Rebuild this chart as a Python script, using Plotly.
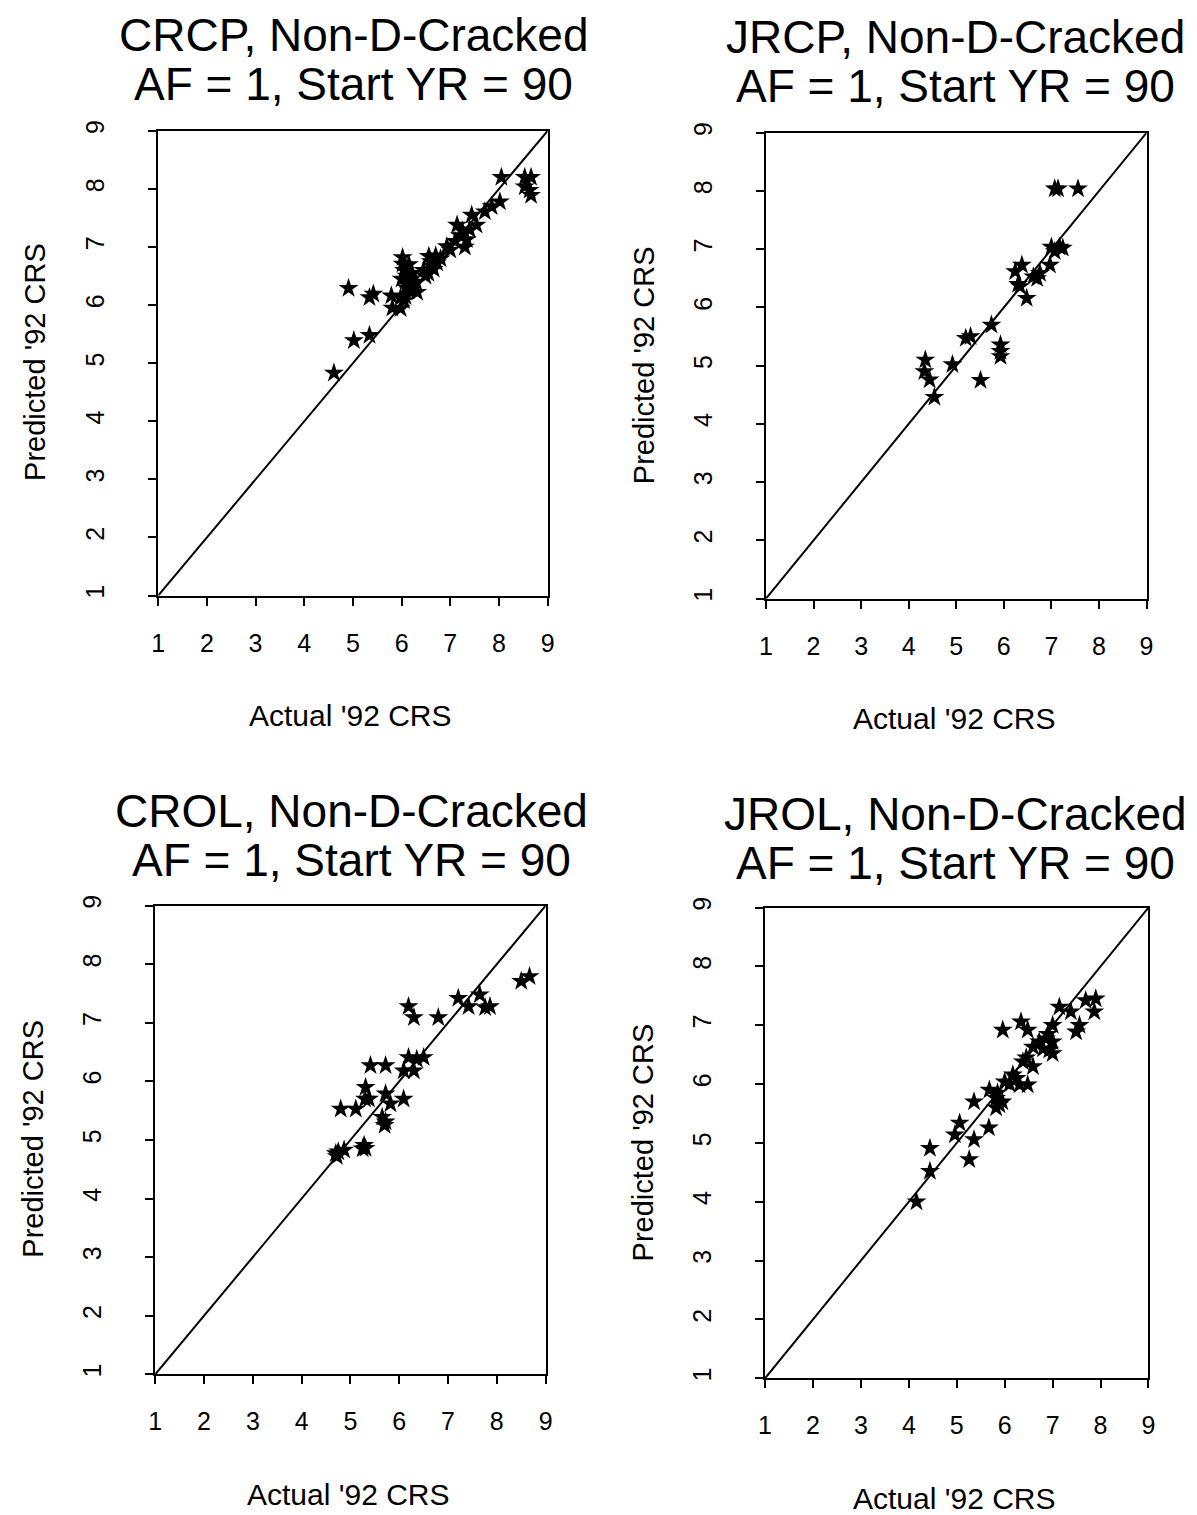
import plotly.graph_objects as go

W, H = 1197, 1515

# ---------------- data ----------------
crcp_x = [4.61, 5.02, 5.34, 4.91, 5.34, 5.42, 5.79, 5.81, 5.98, 6.05, 5.98, 6.19,
          6.02, 6.02, 6.05, 6.10, 6.00, 6.12, 6.20, 6.25, 6.32, 6.15, 6.08, 6.22, 6.15, 6.30, 6.10,
          6.56, 6.73, 6.66, 6.49, 6.60, 6.70, 6.45, 6.62, 6.80, 6.55,
          6.93, 7.00, 7.14, 7.20, 7.34, 7.10, 7.25, 7.30, 7.44, 7.54, 7.40, 7.71, 7.85,
          8.02, 8.05, 8.53, 8.66, 8.53, 8.63, 8.66]
crcp_y = [4.83, 5.39, 5.48, 6.29, 6.13, 6.19, 6.16, 5.95, 5.94, 6.08, 6.13, 6.28,
          6.82, 6.71, 6.60, 6.50, 6.45, 6.35, 6.45, 6.39, 6.22, 6.25, 6.15, 6.55, 6.70, 6.40, 6.30,
          6.84, 6.73, 6.62, 6.50, 6.75, 6.85, 6.60, 6.68, 6.80, 6.55,
          7.01, 6.95, 7.38, 7.20, 7.13, 7.10, 7.28, 7.00, 7.55, 7.38, 7.30, 7.61, 7.70,
          7.78, 8.20, 8.20, 8.20, 8.04, 7.98, 7.89]

jrcp_x = [7.07, 7.14, 7.56, 7.00, 7.17, 7.24, 7.07, 6.97, 6.76, 6.62, 6.70, 6.38, 6.24,
          6.34, 6.30, 6.48, 5.74, 5.30, 5.20, 5.93, 5.93, 5.93, 5.51, 4.92, 4.35, 4.33,
          4.44, 4.54]
jrcp_y = [8.04, 8.04, 8.04, 7.04, 7.04, 7.02, 6.96, 6.73, 6.59, 6.53, 6.50, 6.73, 6.62,
          6.36, 6.40, 6.16, 5.70, 5.50, 5.47, 5.36, 5.25, 5.16, 4.75, 5.02, 5.10, 4.90,
          4.76, 4.46]

crol_x = [4.70, 4.72, 4.75, 4.87, 5.28, 5.31, 5.25, 4.80, 5.11, 5.31, 5.30, 5.38, 5.41,
          5.72, 5.72, 5.82, 5.65, 5.72, 5.70, 6.09, 6.19, 6.36, 6.50, 6.09, 6.30, 6.19,
          6.30, 6.80, 7.21, 7.65, 7.42, 7.76, 7.86, 8.50, 8.67]
crol_y = [4.77, 4.72, 4.80, 4.83, 4.91, 4.86, 4.85, 5.53, 5.53, 5.90, 5.70, 5.70, 6.27,
          6.27, 5.79, 5.62, 5.39, 5.31, 5.25, 5.70, 6.41, 6.38, 6.41, 6.18, 6.18, 7.28,
          7.09, 7.09, 7.42, 7.48, 7.28, 7.26, 7.28, 7.71, 7.79]

jrol_x = [4.16, 4.44, 4.44, 5.26, 5.36, 4.96, 5.06, 5.67, 5.36, 5.68, 5.82, 5.82, 5.89,
          5.85, 5.95, 5.96, 6.34, 6.48, 6.00, 6.17, 6.31, 6.48, 6.10, 6.25, 6.38, 6.59,
          6.45, 6.59, 6.72, 6.86, 7.00, 6.93, 6.80, 6.90, 7.00, 7.00, 7.14, 7.38, 7.56,
          7.49, 7.69, 7.90, 7.87]
jrol_y = [4.00, 4.52, 4.91, 4.72, 5.06, 5.14, 5.34, 5.26, 5.70, 5.90, 5.76, 5.60, 5.65,
          5.85, 5.70, 6.92, 7.06, 6.92, 6.04, 6.16, 5.99, 5.99, 6.00, 6.10, 6.38, 6.30,
          6.45, 6.63, 6.72, 6.77, 6.72, 6.58, 6.60, 6.85, 7.00, 6.52, 7.31, 7.23, 7.00,
          6.89, 7.42, 7.45, 7.23]

line_xy = [1, 9]
tick_vals = [1, 2, 3, 4, 5, 6, 7, 8, 9]
tick_text = ["1", "2", "3", "4", "5", "6", "7", "8", "9"]

titles = ["CRCP, Non-D-Cracked", "JRCP, Non-D-Cracked",
          "CROL, Non-D-Cracked", "JROL, Non-D-Cracked"]
subtitle = "AF = 1, Start YR = 90"
x_title = "Actual '92 CRS"
y_title = "Predicted '92 CRS"

# ---------------- layout (pixel boxes of each panel) ----------------
FONT = "Liberation Sans, Arial, Helvetica, sans-serif"
panels = [
    # x0, x1, ytop, ybottom (pixels)
    dict(box=(153, 547, 121, 590), data=(crcp_x, crcp_y), tcx=351, ty=(24, 74)),
    dict(box=(768, 1153, 123, 593), data=(jrcp_x, jrcp_y), tcx=960, ty=(26, 76)),
    dict(box=(150, 545, 903, 1376), data=(crol_x, crol_y), tcx=349, ty=(807, 857)),
    dict(box=(767, 1155, 905, 1380), data=(jrol_x, jrol_y), tcx=960, ty=(810, 860)),
]

fig = go.Figure()
annotations = []
for i, p in enumerate(panels):
    n = "" if i == 0 else str(i + 1)
    x0, x1, yt, yb = p["box"]
    xs, ys = p["data"]
    fig.add_trace(go.Scatter(x=line_xy, y=line_xy, mode="lines",
                             line=dict(color="black", width=2),
                             xaxis="x" + n, yaxis="y" + n, showlegend=False,
                             hoverinfo="skip"))
    fig.add_trace(go.Scatter(x=xs, y=ys, mode="markers",
                             marker=dict(symbol="star", size=15, color="black",
                                         line=dict(width=0)),
                             xaxis="x" + n, yaxis="y" + n, showlegend=False))
    axis_common = dict(range=[1, 9], tickvals=tick_vals, ticktext=tick_text,
                       showgrid=False, zeroline=False, showline=True,
                       linecolor="black", linewidth=2, mirror=True,
                       ticks="outside", ticklen=8, tickwidth=2, tickcolor="black",
                       tickfont=dict(family=FONT, size=25, color="black"))
    fig.update_layout(**{
        "xaxis" + n: dict(axis_common, domain=[x0 / W, x1 / W],
                          anchor="y" + n, ticklabelstandoff=16),
        "yaxis" + n: dict(axis_common, domain=[1 - yb / H, 1 - yt / H],
                          anchor="x" + n, tickangle=-90, ticklabelstandoff=34),
    })
    cx = (x0 + x1) / 2
    annotations += [
        dict(text=titles[i], x=p["tcx"] / W, y=1 - p["ty"][0] / H,
             xref="paper", yref="paper", showarrow=False,
             xanchor="center", yanchor="middle",
             font=dict(family=FONT, size=46, color="black")),
        dict(text=subtitle, x=p["tcx"] / W, y=1 - p["ty"][1] / H,
             xref="paper", yref="paper", showarrow=False,
             xanchor="center", yanchor="middle",
             font=dict(family=FONT, size=46, color="black")),
        dict(text=x_title, x=(cx - 2) / W, y=1 - (yb + 121) / H,
             xref="paper", yref="paper", showarrow=False,
             xanchor="center", yanchor="middle",
             font=dict(family=FONT, size=30, color="black")),
        dict(text=y_title, x=(x0 - 124) / W, y=1 - ((yt + yb) / 2 - 1) / H,
             xref="paper", yref="paper", showarrow=False, textangle=-90,
             xanchor="center", yanchor="middle",
             font=dict(family=FONT, size=29, color="black")),
    ]

fig.update_layout(width=W, height=H, margin=dict(l=0, r=0, t=0, b=0),
                  paper_bgcolor="white", plot_bgcolor="white",
                  annotations=annotations, showlegend=False)

fig.write_html("out.html")
